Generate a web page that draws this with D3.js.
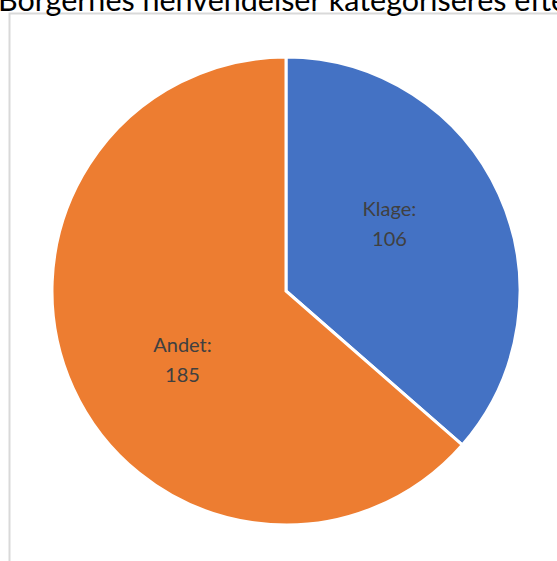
<!DOCTYPE html>
<html>
<head>
<meta charset="utf-8">
<script src="https://cdn.jsdelivr.net/npm/d3@7"></script>
<style>
  body { margin: 0; background: #fff; overflow: hidden; }
  svg { display: block; }
</style>
</head>
<body>
<script>
// data
var categories = ["Klage", "Andet"];
var values = [106, 185];
var colors = ["#4472C4", "#ED7D31"];
var title = "Borgernes henvendelser kategoriseres efter type";

var width = 557, height = 561;
var svg = d3.select("body").append("svg")
	.attr("width", width)
	.attr("height", height);

// chart frame (cut off on the right and bottom)
svg.append("rect")
	.attr("x", 9.5).attr("y", 13.5)
	.attr("width", 700).attr("height", 700)
	.attr("fill", "#fff")
	.attr("stroke", "#d9d9d9")
	.attr("stroke-width", 2);

svg.append("text")
	.attr("x", -2).attr("y", 11)
	.attr("font-family", "Lato, 'Open Sans', sans-serif")
	.attr("font-size", 30.5)
	.attr("fill", "#000")
	.text(title);

var cx = 286, cy = 291, r = 234;

var pie = d3.pie().sort(null).value(function(d, i) { return values[i]; });
var arcs = pie(categories);

var arc = d3.arc().innerRadius(0).outerRadius(r);

var g = svg.append("g").attr("transform", "translate(" + cx + "," + cy + ")");

g.selectAll("path")
	.data(arcs)
	.enter().append("path")
	.attr("d", arc)
	.attr("fill", function(d, i) { return colors[i]; })
	.attr("stroke", "#fff")
	.attr("stroke-width", 3)
	.attr("stroke-linejoin", "miter");

// labels sit a bit ahead of the slice middle, like Excel does it
var labelR = 124, shift = -9 * Math.PI / 180;
var labels = g.selectAll(".lbl")
	.data(arcs)
	.enter().append("text")
	.attr("class", "lbl")
	.attr("font-family", "Lato, 'Open Sans', sans-serif")
	.attr("font-size", 20)
	.attr("fill", "#404040")
	.attr("text-anchor", "middle")
	.attr("transform", function(d) {
		var a = (d.startAngle + d.endAngle) / 2 + shift;
		return "translate(" + (labelR * Math.sin(a)) + "," + (-labelR * Math.cos(a)) + ")";
	});

labels.append("tspan")
	.attr("x", 0).attr("y", -7)
	.text(function(d, i) { return categories[i] + ":"; });
labels.append("tspan")
	.attr("x", 0).attr("y", 23)
	.text(function(d, i) { return values[i]; });
</script>
</body>
</html>
